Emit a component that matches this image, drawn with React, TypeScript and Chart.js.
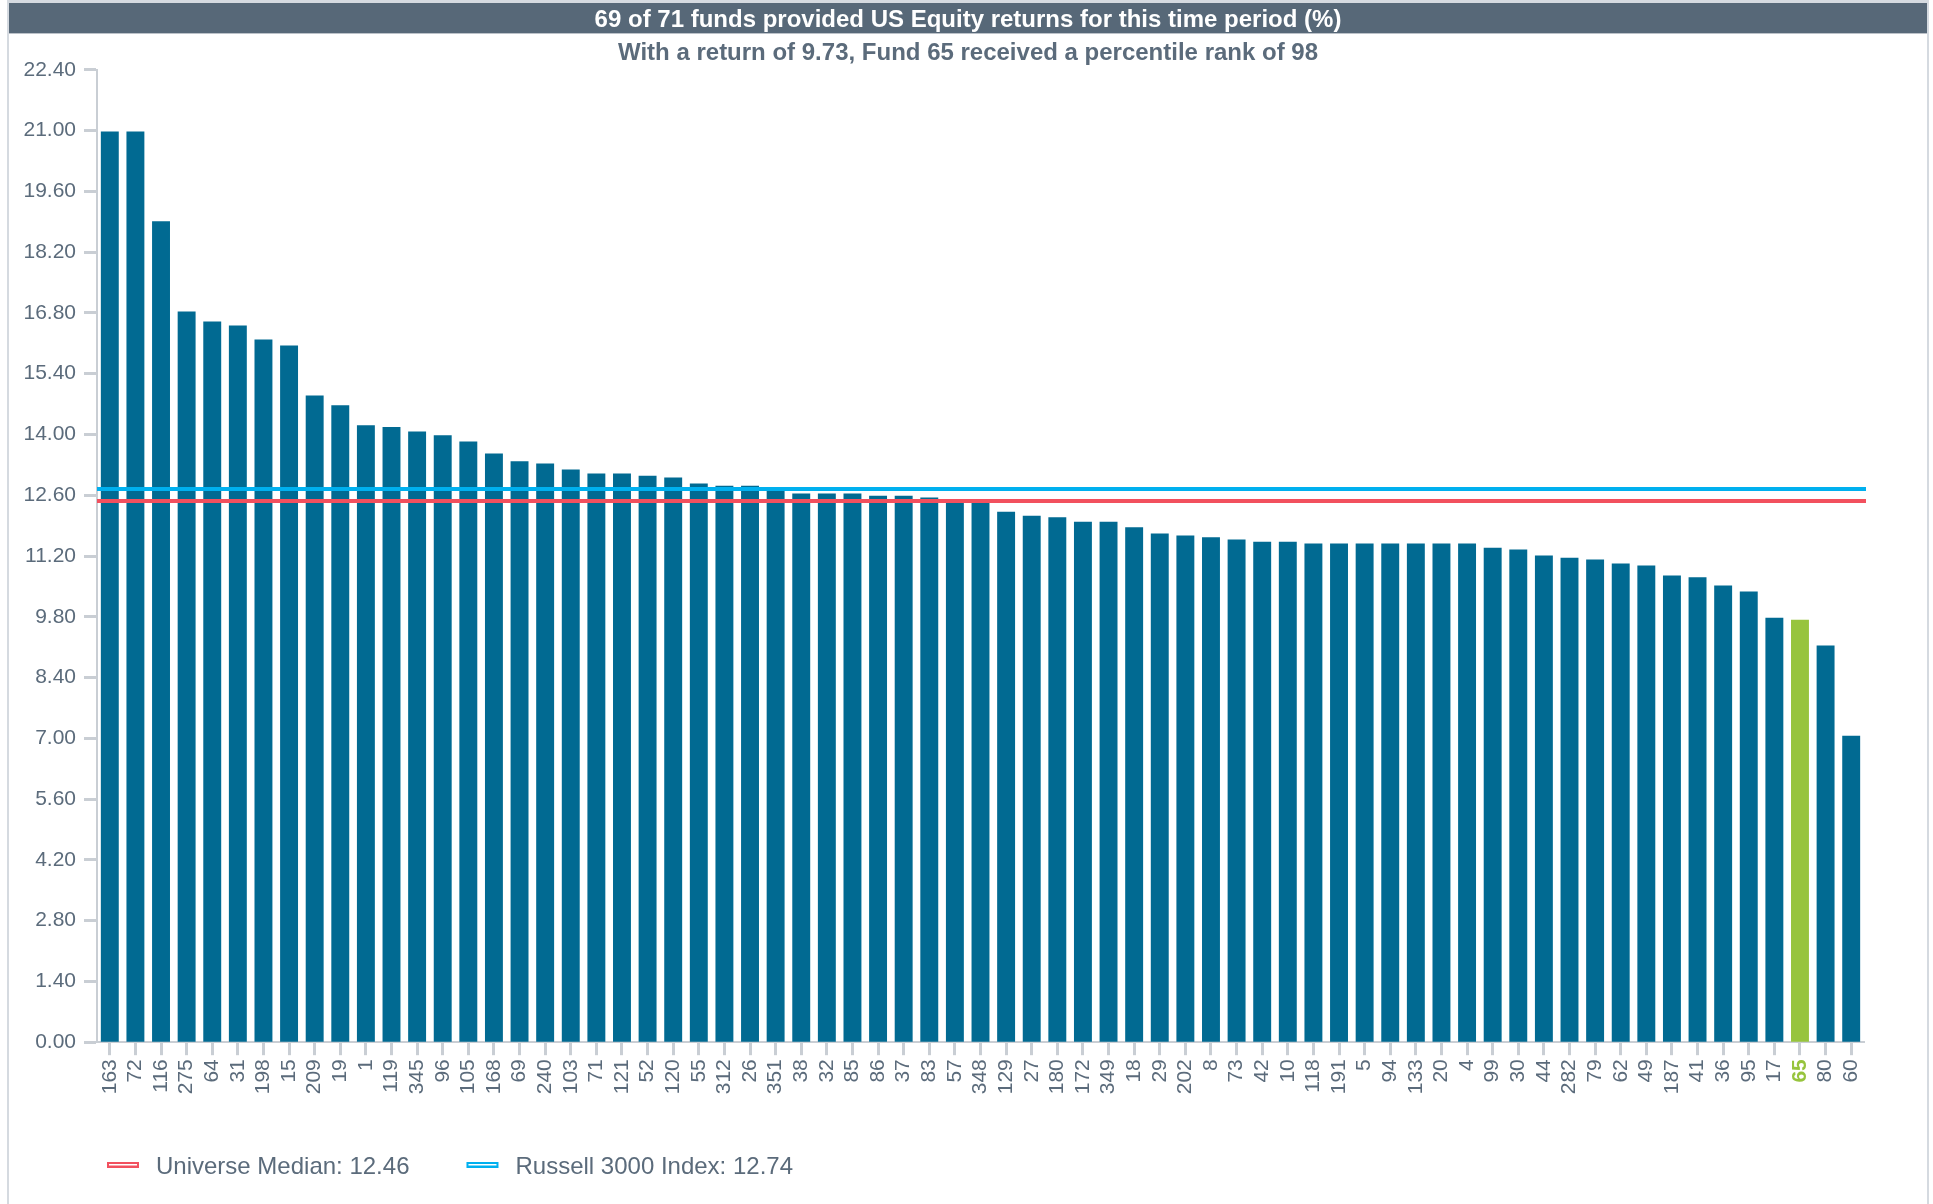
import React, { useEffect, useRef } from "react";
import { Chart, registerables } from "chart.js";

Chart.register(...registerables);

// ---------- DATA ----------
const fundLabels: string[] = [
  "163", "72", "116", "275", "64", "31", "198", "15", "209", "19", "1", "119",
  "345", "96", "105", "168", "69", "240", "103", "71", "121", "52", "120", "55",
  "312", "26", "351", "38", "32", "85", "86", "37", "83", "57", "348", "129",
  "27", "180", "172", "349", "18", "29", "202", "8", "73", "42", "10", "118",
  "191", "5", "94", "133", "20", "4", "99", "30", "44", "282", "79", "62",
  "49", "187", "41", "36", "95", "17", "65", "80", "60",
];

const fundReturns: number[] = [
  20.98, 20.98, 18.91, 16.83, 16.6, 16.51, 16.19, 16.05, 14.9, 14.67, 14.21, 14.17,
  14.07, 13.98, 13.84, 13.56, 13.38, 13.33, 13.19, 13.1, 13.1, 13.05, 13.01, 12.87,
  12.82, 12.82, 12.73, 12.64, 12.64, 12.64, 12.59, 12.59, 12.55, 12.48, 12.46, 12.22,
  12.13, 12.09, 11.99, 11.99, 11.86, 11.72, 11.67, 11.63, 11.58, 11.53, 11.53, 11.49,
  11.49, 11.49, 11.49, 11.49, 11.49, 11.49, 11.39, 11.35, 11.21, 11.16, 11.12, 11.03,
  10.98, 10.75, 10.71, 10.52, 10.38, 9.78, 9.73, 9.14, 7.06,
];

const highlightFund = "65";

const yTickValues: number[] = [
  0, 1.4, 2.8, 4.2, 5.6, 7, 8.4, 9.8, 11.2, 12.6, 14, 15.4, 16.8, 18.2, 19.6, 21, 22.4,
];

const refLineNames: string[] = ["Universe Median", "Russell 3000 Index"];
const refLineValues: number[] = [12.46, 12.74];
const refLineColors: string[] = ["#f2505e", "#00b0ef"];

const titleText = "69 of 71 funds provided US Equity returns for this time period (%)";
const subtitleText = "With a return of 9.73, Fund 65 received a percentile rank of 98";

// ---------- STYLE ----------
const FONT = "'Liberation Sans', Arial, Helvetica, sans-serif";
const BAR_COLOR = "#016a92";
const HIGHLIGHT_COLOR = "#97c43d";
const TEXT_COLOR = "#5b6b7b";
const AXIS_COLOR = "#c9ced4";
const BANNER_COLOR = "#576878";

const CANVAS_W = 1918;
const CANVAS_H = 1201;
const PLOT_BOTTOM = 1039.2;
const PLOT_LEFT = 88;
const RIGHT_SPACE = 63;

const bannerPlugin = {
  id: "banner",
  beforeDraw(chart: any) {
    const tb = chart.titleBlock;
    if (!tb) return;
    const ctx = chart.ctx;
    ctx.save();
    ctx.fillStyle = BANNER_COLOR;
    ctx.fillRect(0, tb.top, chart.width, tb.height);
    ctx.restore();
  },
};

const refLinesPlugin = {
  id: "refLines",
  afterDatasetsDraw(chart: any) {
    const { ctx, chartArea } = chart;
    const y = chart.scales.y;
    ctx.save();
    refLineValues.forEach((v, i) => {
      const py = Math.round(y.getPixelForValue(v));
      ctx.strokeStyle = refLineColors[i];
      ctx.lineWidth = 4;
      ctx.beginPath();
      ctx.moveTo(chartArea.left, py);
      ctx.lineTo(chartArea.right + 2, py);
      ctx.stroke();
    });
    ctx.restore();
  },
};

const legendPlugin = {
  id: "customLegend",
  afterDraw(chart: any) {
    const { ctx, chartArea } = chart;
    ctx.save();
    ctx.font = `24px ${FONT}`;
    ctx.textBaseline = "middle";
    ctx.textAlign = "left";
    let x = chartArea.left + 10;
    const cy = 1162;
    refLineNames.forEach((name, i) => {
      const label = `${name}: ${refLineValues[i].toFixed(2)}`;
      ctx.fillStyle = refLineColors[i];
      ctx.fillRect(x, cy - 3, 32, 6);
      ctx.fillStyle = "#ffffff";
      ctx.fillRect(x + 2, cy - 1, 28, 1.5);
      x += 32 + 17;
      ctx.fillStyle = TEXT_COLOR;
      ctx.fillText(label, x, cy + 2);
      x += ctx.measureText(label).width + 57;
    });
    ctx.restore();
  },
};

export default function App() {
  const canvasRef = useRef<HTMLCanvasElement | null>(null);

  useEffect(() => {
    document.body.style.margin = "0";
    const canvas = canvasRef.current;
    if (!canvas) return;
    const hiIndex = fundLabels.indexOf(highlightFund);

    const chart = new Chart(canvas, {
      type: "bar",
      data: {
        labels: fundLabels,
        datasets: [
          {
            label: "Fund returns",
            data: fundReturns,
            backgroundColor: fundLabels.map((l) => (l === highlightFund ? HIGHLIGHT_COLOR : BAR_COLOR)),
            barPercentage: 0.7,
            categoryPercentage: 1.0,
            borderWidth: 0,
            yAxisID: "y",
          },
        ],
      },
      options: {
        responsive: false,
        animation: false,
        devicePixelRatio: 1,
        layout: { padding: { left: 0, right: 0, top: 0, bottom: 0 } },
        plugins: {
          legend: { display: false },
          tooltip: { enabled: false },
          title: {
            display: true,
            text: titleText,
            color: "#ffffff",
            font: { family: FONT, size: 24, weight: "bold", lineHeight: 1.1 },
            padding: { top: 4, bottom: 0 },
          },
          subtitle: {
            display: true,
            text: subtitleText,
            color: TEXT_COLOR,
            font: { family: FONT, size: 24, weight: "bold", lineHeight: 1.0 },
            padding: { top: 8, bottom: 4.4 },
          },
        },
        scales: {
          x: {
            type: "category",
            grid: {
              display: true,
              drawOnChartArea: false,
              drawTicks: true,
              tickLength: 13,
              tickWidth: 3,
              tickColor: AXIS_COLOR,
              offset: false,
            },
            border: { display: true, color: AXIS_COLOR, width: 2 },
            ticks: {
              autoSkip: false,
              minRotation: 90,
              maxRotation: 90,
              padding: 4,
              color: (c: any) => (c.index === hiIndex ? HIGHLIGHT_COLOR : TEXT_COLOR),
              font: (c: any) => ({
                family: FONT,
                size: 21,
                weight: c.index === hiIndex ? "bold" : "normal",
              }),
            },
            afterFit: (scale: any) => {
              scale.height = CANVAS_H - PLOT_BOTTOM;
            },
          },
          y: {
            type: "linear",
            position: "left",
            min: 0,
            max: 22.4,
            grid: {
              display: true,
              drawOnChartArea: false,
              drawTicks: true,
              tickLength: 13,
              tickWidth: 3,
              tickColor: AXIS_COLOR,
            },
            border: { display: true, color: AXIS_COLOR, width: 2 },
            afterBuildTicks: (scale: any) => {
              scale.ticks = yTickValues.map((v) => ({ value: v }));
            },
            ticks: {
              padding: 8,
              color: TEXT_COLOR,
              font: { family: FONT, size: 21 },
              callback: (v: any) => Number(v).toFixed(2),
            },
            afterFit: (scale: any) => {
              scale.width = PLOT_LEFT;
            },
          },
          ySpacer: {
            type: "linear",
            position: "right",
            display: true,
            min: 0,
            max: 1,
            grid: { display: false, drawTicks: false },
            border: { display: false },
            ticks: { display: false },
            afterFit: (scale: any) => {
              scale.width = RIGHT_SPACE;
            },
          },
        },
      },
      plugins: [bannerPlugin, refLinesPlugin, legendPlugin],
    });

    return () => chart.destroy();
  }, []);

  return (
    <div
      style={{
        position: "absolute",
        left: 7,
        top: 0,
        width: CANVAS_W,
        height: CANVAS_H,
        borderLeft: "2px solid #d5dae0",
        borderRight: "2px solid #d5dae0",
        borderTop: "3px solid #d5dae0",
        background: "#ffffff",
      }}
    >
      <canvas ref={canvasRef} width={CANVAS_W} height={CANVAS_H} style={{ display: "block" }} />
    </div>
  );
}
